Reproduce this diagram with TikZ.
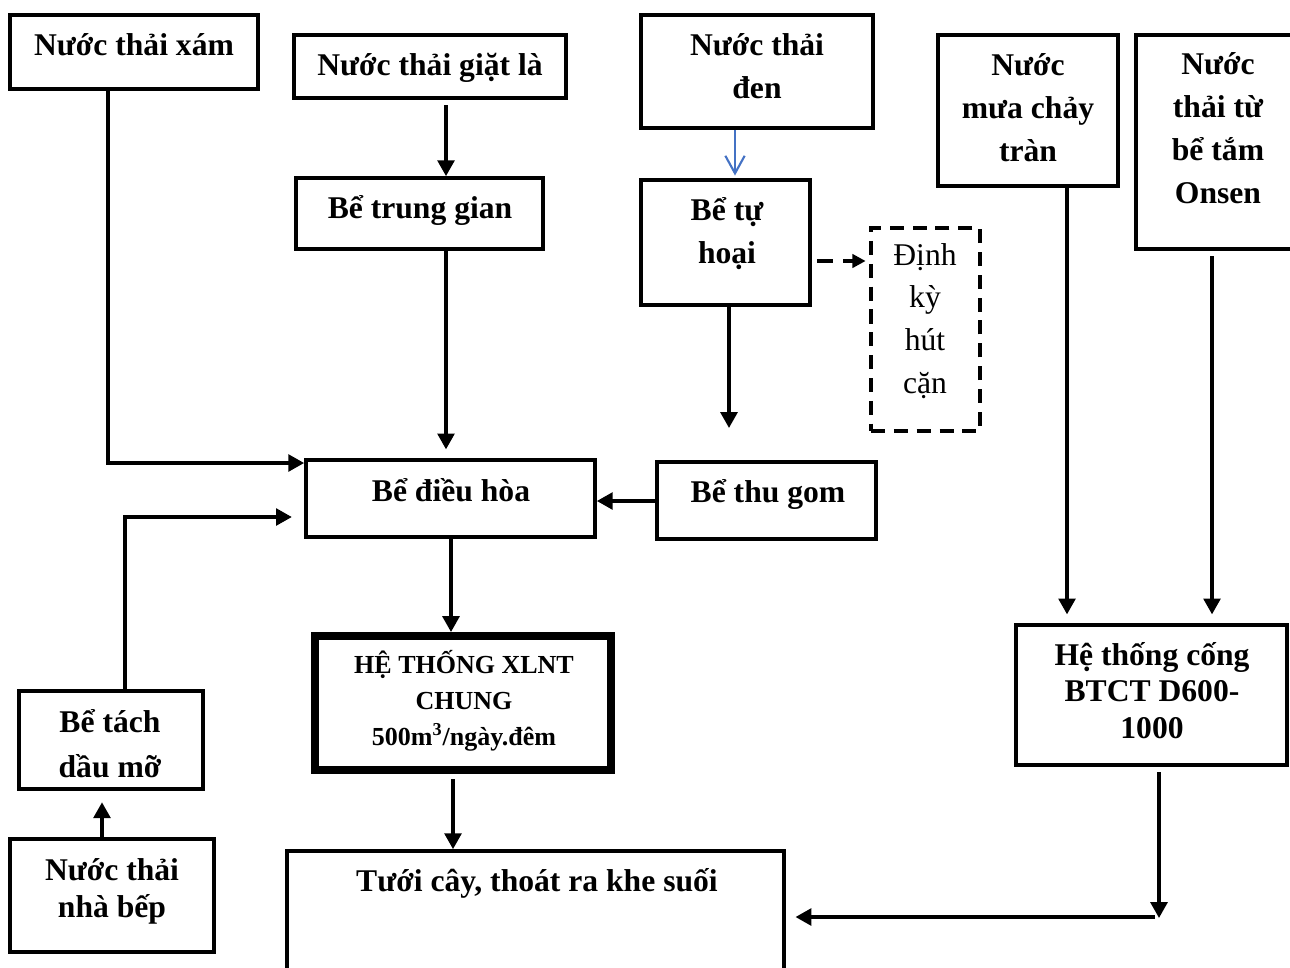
\documentclass[tikz,border=0pt]{standalone}
\usepackage{fontspec}
\setmainfont{Liberation Serif}
\usetikzlibrary{arrows.meta,fit}
\definecolor{flowblue}{HTML}{4472C4}
\begin{document}
\begin{tikzpicture}[x=0.02cm,y=-0.02cm,
  box/.style={draw, line width=2.1pt, inner sep=0pt},
  heavybox/.style={draw, line width=4.5pt, inner sep=0pt},
  dashbox/.style={draw, line width=2.1pt, inner sep=0pt, dash pattern=on 8pt off 5pt},
  lbl/.style={font=\bfseries\fontsize{18}{24.4}\selectfont, align=center, inner sep=0pt, anchor=base},
  flow/.style={line width=2pt, -{Triangle[length=9pt,width=9.5pt]}},
  dashflow/.style={line width=2pt, dash pattern=on 9pt off 6pt, -{Triangle[length=7.5pt,width=7.5pt]}},
  blueflow/.style={flowblue, line width=1.2pt, -{Straight Barb[length=10pt,width=11pt]}}
]
\useasboundingbox (0,0) rectangle (1290,967);
\clip (0,0) rectangle (1290,967);

% boxes
\node[box, fit={(10,15) (258,89)}] (xam) {};
\node[box, fit={(294,35) (566,98)}] (gl) {};
\node[box, fit={(296,178) (543,249)}] (tg) {};
\node[box, fit={(641,15) (873,128)}] (den) {};
\node[box, fit={(641,180) (810,305)}] (th) {};
\node[dashbox, fit={(871,228) (980,431)}] (dk) {};
\node[box, fit={(938,35) (1118,186)}] (mua) {};
\node[box, fit={(1136,35) (1310,249)}] (ons) {};
\node[box, fit={(306,460) (595,537)}] (dh) {};
\node[box, fit={(657,462) (876,539)}] (gom) {};
\node[heavybox, fit={(315,636) (611,770)}] (xl) {};
\node[box, fit={(19,691) (203,789)}] (tach) {};
\node[box, fit={(10,839) (214,952)}] (bep) {};
\node[box, fit={(287,851) (784,1000)}] (tuoi) {};
\node[box, fit={(1016,625) (1287,765)}] (cong) {};

% labels (multi-line labels sit on the baseline of their last line)
\node[lbl] (txam) at (134,55) {Nước thải xám};
\node[lbl] (tgl) at (430,75) {Nước thải giặt là};
\node[lbl] (ttg) at (420,218) {Bể trung gian};
\node[lbl] (tden) at (757,98) {Nước thải\\đen};
\node[lbl] (tth) at (727,263) {Bể tự\\hoại};
\node[lbl, font=\mdseries\fontsize{18}{24.2}\selectfont] (tdk) at (925,393) {Định\\kỳ\\hút\\cặn};
\node[lbl] (tmua) at (1028,161) {Nước\\mưa chảy\\tràn};
\node[lbl] (tons) at (1218,203) {Nước\\thải từ\\bể tắm\\Onsen};
\node[lbl] (tdh) at (451,501) {Bể điều hòa};
\node[lbl] (tgom) at (768,502) {Bể thu gom};
\node[lbl, font=\bfseries\fontsize{14.8}{20.4}\selectfont] (txl) at (464,745)
  {HỆ THỐNG XLNT\\CHUNG\\500m\textsuperscript{3}/ngày.đêm};
\node[lbl, font=\bfseries\fontsize{18}{25.5}\selectfont] (ttach) at (110,777) {Bể tách\\dầu mỡ};
\node[lbl, font=\bfseries\fontsize{18}{21}\selectfont] (tbep) at (112,917) {Nước thải\\nhà bếp};
\node[lbl] (ttuoi) at (537,891) {Tưới cây, thoát ra khe suối};
\node[lbl, font=\bfseries\fontsize{18}{20.7}\selectfont] (tcong) at (1152,738) {Hệ thống cống\\BTCT D600-\\1000};

% free ends
\coordinate (thout) at (729,428);
\coordinate (bend) at (1159,918);
\coordinate (jn) at (1155,917);

% connectors
\draw[flow] (108,0 |- xam.south) -- (108,463) -- (dh.west |- 0,463);
\draw[flow, shorten <=3pt] (446,0 |- gl.south) -- (446,0 |- tg.north);
\draw[flow, shorten >=5pt] (446,0 |- tg.south) -- (446,0 |- dh.north);
\draw[blueflow, shorten >=1.5pt] (735,0 |- den.south) -- (735,0 |- th.north);
\draw[dashflow, shorten <=3pt, shorten >=2pt] (th.east |- 0,261) -- (dk.west |- 0,261);
\draw[flow] (729,0 |- th.south) -- (thout);
\draw[flow] (gom.west |- 0,501) -- (dh.east |- 0,501);
\draw[flow] (451,0 |- dh.south) -- (451,0 |- xl.north);
\draw[flow, shorten <=3pt] (453,0 |- xl.south) -- (453,0 |- tuoi.north);
\draw[flow, shorten >=7pt] (125,0 |- tach.north) -- (125,517) -- (dh.west |- 0,517);
\draw[flow, shorten >=6.5pt] (102,0 |- bep.north) -- (102,0 |- tach.south);
\draw[flow, shorten >=5pt] (1067,0 |- mua.south) -- (1067,0 |- cong.north);
\draw[flow, shorten <=3pt, shorten >=5pt] (1212,0 |- ons.south) -- (1212,0 |- cong.north);
\draw[flow, shorten <=3pt] (1159,0 |- cong.south) -- (bend);
\draw[flow, shorten >=5.5pt] (jn) -- (tuoi.east |- 0,917);
\end{tikzpicture}
\end{document}
